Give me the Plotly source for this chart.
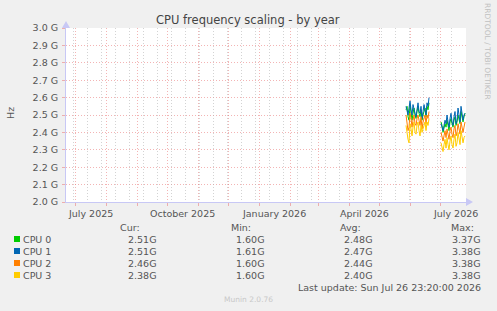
import plotly.graph_objects as go
import pandas as pd

# ---------------- data ----------------
seg1_start, seg1_len = "2026-05-28", 24
seg2_start, seg2_len = "2026-07-02", 25

cpu0_s1 = [2.53, 2.55, 2.49, 2.47, 2.56, 2.52, 2.47, 2.51, 2.54, 2.50, 2.48, 2.52,
           2.55, 2.51, 2.49, 2.53, 2.47, 2.50, 2.52, 2.54, 2.49, 2.55, 2.53, 2.57]
cpu1_s1 = [2.55, 2.52, 2.50, 2.54, 2.58, 2.53, 2.50, 2.56, 2.52, 2.51, 2.49, 2.54,
           2.57, 2.52, 2.51, 2.55, 2.48, 2.52, 2.56, 2.53, 2.50, 2.57, 2.55, 2.60]
cpu2_s1 = [2.50, 2.45, 2.41, 2.43, 2.51, 2.48, 2.43, 2.47, 2.50, 2.45, 2.44, 2.48,
           2.50, 2.47, 2.44, 2.49, 2.42, 2.46, 2.48, 2.50, 2.45, 2.50, 2.48, 2.52]
cpu3_s1 = [2.44, 2.38, 2.36, 2.34, 2.45, 2.42, 2.38, 2.43, 2.46, 2.40, 2.39, 2.44,
           2.46, 2.41, 2.38, 2.44, 2.40, 2.42, 2.45, 2.46, 2.41, 2.46, 2.44, 2.48]

cpu0_s2 = [2.46, 2.44, 2.40, 2.42, 2.45, 2.43, 2.47, 2.44, 2.41, 2.46, 2.48, 2.45, 2.43,
           2.47, 2.49, 2.44, 2.46, 2.50, 2.47, 2.45, 2.52, 2.48, 2.46, 2.49, 2.51]
cpu1_s2 = [2.45, 2.42, 2.41, 2.44, 2.47, 2.45, 2.50, 2.46, 2.43, 2.48, 2.51, 2.46, 2.44,
           2.49, 2.52, 2.45, 2.47, 2.54, 2.48, 2.46, 2.55, 2.49, 2.47, 2.50, 2.51]
cpu2_s2 = [2.40, 2.36, 2.35, 2.38, 2.41, 2.37, 2.42, 2.39, 2.36, 2.41, 2.43, 2.39, 2.37,
           2.42, 2.44, 2.38, 2.40, 2.45, 2.41, 2.39, 2.46, 2.42, 2.40, 2.43, 2.46]
cpu3_s2 = [2.34, 2.31, 2.29, 2.33, 2.36, 2.31, 2.37, 2.33, 2.30, 2.35, 2.38, 2.33, 2.31,
           2.36, 2.39, 2.32, 2.34, 2.40, 2.35, 2.33, 2.41, 2.36, 2.34, 2.37, 2.38]

series_names = ["CPU 0", "CPU 1", "CPU 2", "CPU 3"]
series_colors = ["#00CC00", "#0066B3", "#FF8000", "#FFCC00"]
stat_cur = ["2.51G", "2.51G", "2.46G", "2.38G"]
stat_min = ["1.60G", "1.61G", "1.60G", "1.60G"]
stat_avg = ["2.48G", "2.47G", "2.44G", "2.40G"]
stat_max = ["3.37G", "3.38G", "3.38G", "3.38G"]

y_tickvals = [2.0, 2.1, 2.2, 2.3, 2.4, 2.5, 2.6, 2.7, 2.8, 2.9, 3.0]
y_ticktext = ["2.0 G", "2.1 G", "2.2 G", "2.3 G", "2.4 G", "2.5 G",
              "2.6 G", "2.7 G", "2.8 G", "2.9 G", "3.0 G"]
x_label_dates = ["2025-07-16", "2025-10-16", "2026-01-16", "2026-04-16", "2026-07-16"]
x_label_text = ["July 2025", "October 2025", "January 2026", "April 2026", "July 2026"]

x_start = "2025-06-21 23:20"
x_end = "2026-07-26 23:20"

# ---------------- geometry ----------------
W, H = 497, 311
L, R, T, B = 66, 466, 28, 202


def px(xp):
    return (xp - L) / (R - L)


def py(yp):
    return (B - yp) / (B - T)


d1 = list(pd.date_range(seg1_start, periods=seg1_len, freq="D"))
d2 = list(pd.date_range(seg2_start, periods=seg2_len, freq="D"))
dates = d1 + [d1[-1] + pd.Timedelta(hours=12)] + d2

all_series = [
    cpu0_s1 + [None] + cpu0_s2,
    cpu1_s1 + [None] + cpu1_s2,
    cpu2_s1 + [None] + cpu2_s2,
    cpu3_s1 + [None] + cpu3_s2,
]

fig = go.Figure()
# invisible helper trace so the minor-grid overlay axis is drawn
fig.add_trace(go.Scatter(x=[x_start, x_end], y=[None, None], xaxis="x2", yaxis="y",
                         mode="lines", showlegend=False, hoverinfo="skip"))
for name, col, vals in zip(series_names, series_colors, all_series):
    fig.add_trace(go.Scatter(x=dates, y=vals, mode="lines", name=name,
                             line=dict(color=col, width=1), connectgaps=False,
                             showlegend=False, hoverinfo="skip"))

FONT = "DejaVu Sans"
major_grid = "rgba(235,130,130,0.6)"
minor_grid = "rgba(175,175,175,0.55)"
axis_col = "#c8c8f5"
dots = "1px,2px"

fig.update_layout(
    width=W, height=H,
    margin=dict(l=L, r=W - R, t=T, b=H - B, pad=0),
    paper_bgcolor="#F0F0F0", plot_bgcolor="#FFFFFF",
    font=dict(family=FONT, size=9.5, color="#555555"),
    showlegend=False,
    xaxis2=dict(
        type="date", range=[x_start, x_end], overlaying="x", anchor="y",
        tickmode="linear", tick0="2025-06-29", dtick=14 * 86400000,
        showticklabels=False, ticks="", showgrid=True, gridcolor=minor_grid,
        griddash=dots, gridwidth=1, showline=False, zeroline=False, fixedrange=True,
    ),
    xaxis=dict(
        type="date", range=[x_start, x_end],
        tickmode="linear", tick0="2025-07-01", dtick="M1",
        showticklabels=False, ticks="outside", ticklen=3, tickcolor=major_grid,
        showgrid=True, gridcolor=major_grid, griddash=dots, gridwidth=1,
        showline=True, linecolor=axis_col, linewidth=1,
        zeroline=False, fixedrange=True,
    ),
    yaxis=dict(
        range=[2.0, 3.0], tickmode="array", tickvals=y_tickvals, ticktext=y_ticktext,
        ticks="outside", ticklen=3, tickcolor=major_grid,
        showgrid=True, gridcolor=major_grid, griddash=dots, gridwidth=1,
        showline=True, linecolor=axis_col, linewidth=1,
        tickfont=dict(family=FONT, size=9.5, color="#555555"),
        zeroline=False, fixedrange=True, ticklabelstandoff=2,
    ),
)

ann = []
ann.append(dict(text="CPU frequency scaling - by year", x=px(248), y=py(20),
                xref="paper", yref="paper", showarrow=False, xanchor="center", yanchor="middle",
                font=dict(family=FONT, size=11.5, color="#444444")))
ann.append(dict(text="Hz", x=px(10), y=py(113), xref="paper", yref="paper", showarrow=False,
                textangle=-90, xanchor="center", yanchor="middle",
                font=dict(family=FONT, size=9.5, color="#555555")))
ann.append(dict(text="RRDTOOL / TOBI OETIKER", x=px(488), y=py(51), xref="paper", yref="paper",
                showarrow=False, textangle=90, xanchor="center", yanchor="middle",
                font=dict(family=FONT, size=7.5, color="#c0c0c0")))
for dx, tx in zip(x_label_dates, x_label_text):
    ann.append(dict(text=tx, x=dx, y=py(213), xref="x", yref="paper", showarrow=False,
                    xanchor="center", yanchor="middle",
                    font=dict(family=FONT, size=9.5, color="#555555")))
for hx, ht in zip([142, 253, 363, 476], ["Cur:", "Min:", "Avg:", "Max:"]):
    ann.append(dict(text=ht, x=px(hx), y=py(227), xref="paper", yref="paper", showarrow=False,
                    xanchor="right", yanchor="middle",
                    font=dict(family=FONT, size=9.5, color="#555555")))
row_y = [239, 251, 263, 275]
shapes = []
for i, (name, col) in enumerate(zip(series_names, series_colors)):
    yy = row_y[i]
    shapes.append(dict(type="rect", xref="paper", yref="paper",
                       x0=px(14), x1=px(20), y0=py(yy + 3), y1=py(yy - 3),
                       fillcolor=col, line=dict(width=0)))
    ann.append(dict(text=name, x=px(21), y=py(yy), xref="paper", yref="paper", showarrow=False,
                    xanchor="left", yanchor="middle",
                    font=dict(family=FONT, size=9.5, color="#555555")))
    for vx, vals in zip([159, 267, 375, 483], [stat_cur, stat_min, stat_avg, stat_max]):
        ann.append(dict(text=vals[i], x=px(vx), y=py(yy), xref="paper", yref="paper",
                        showarrow=False, xanchor="right", yanchor="middle",
                        font=dict(family=FONT, size=9.5, color="#555555")))
ann.append(dict(text="Last update: Sun Jul 26 23:20:00 2026", x=px(483), y=py(287),
                xref="paper", yref="paper", showarrow=False, xanchor="right", yanchor="middle",
                font=dict(family=FONT, size=9.5, color="#555555")))
ann.append(dict(text="Munin 2.0.76", x=px(248), y=py(299), xref="paper", yref="paper",
                showarrow=False, xanchor="center", yanchor="middle",
                font=dict(family=FONT, size=7.5, color="#c8c8c8")))

shapes.append(dict(type="path", xref="paper", yref="paper",
                   path=f"M {px(62)} {py(28)} L {px(70)} {py(28)} L {px(66)} {py(21)} Z",
                   fillcolor=axis_col, line=dict(width=0)))
shapes.append(dict(type="path", xref="paper", yref="paper",
                   path=f"M {px(466)} {py(198)} L {px(466)} {py(206)} L {px(473)} {py(202)} Z",
                   fillcolor=axis_col, line=dict(width=0)))

fig.update_layout(annotations=ann, shapes=shapes)
fig.write_html("out.html")
